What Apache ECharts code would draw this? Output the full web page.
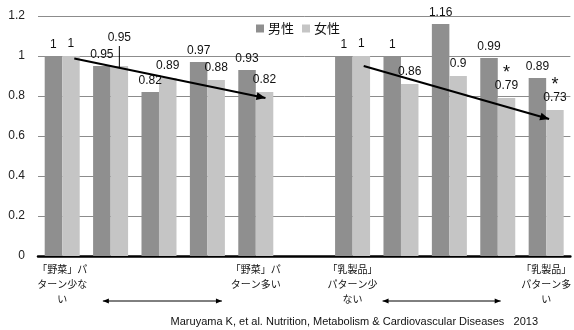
<!DOCTYPE html>
<html>
<head>
<meta charset="utf-8">
<script src="https://cdn.jsdelivr.net/npm/echarts@6/dist/echarts.min.js"></script>
<style>
  html, body { margin: 0; padding: 0; background: #fff; }
  #chart { width: 574px; height: 330px; }
</style>
</head>
<body>
<div id="chart"></div>
<script>
// Category labels (blank slots are the unlabeled middle groups and the spacer)
const categories = [
  '「野菜」パ\nターン少な\nい', '', '', '', '「野菜」パ\nターン多い',
  '',
  '「乳製品」\nパターン少\nない', '', '', '', '「乳製品」\nパターン多\nい'
];
const seriesNames = ['男性', '女性'];
const menValues   = [1, 0.95, 0.82, 0.97, 0.93, null, 1, 1, 1.16, 0.99, 0.89];
const womenValues = [1, 0.95, 0.89, 0.88, 0.82, null, 1, 0.86, 0.9, 0.79, 0.73];
// significance markers shown above the women's values
const womenMarks  = ['', '', '', '', '', '', '', '', '', '*', '*'];
const yTicks = [0, 0.2, 0.4, 0.6, 0.8, 1, 1.2];
const sourceNote = 'Maruyama K, et al. Nutrition, Metabolism & Cardiovascular Diseases   2013';

const BAR_W = 17.5;
const chart = echarts.init(document.getElementById('chart'), null, { renderer: 'canvas' });
const FONT = '"Liberation Sans", "Noto Sans CJK JP", sans-serif';
const CJK = '"Noto Sans CJK JP", sans-serif';

const labelBase = {
  show: true, position: 'top', distance: 5,
  fontFamily: FONT, fontSize: 12, color: '#111'
};

const option = {
  animation: false,
  backgroundColor: '#fff',
  grid: { left: 38, right: 0, top: 16, bottom: 74, containLabel: false },
  legend: {
    data: seriesNames,
    left: 251, top: 17,
    itemWidth: 8, itemHeight: 8, itemGap: 8,
    icon: 'rect',
    textStyle: { fontFamily: CJK, fontSize: 13, color: '#111', padding: [0, 0, 0, -1] }
  },
  xAxis: {
    type: 'category',
    data: categories,
    axisLine: { show: true, lineStyle: { color: '#000', width: 2.5 } },
    axisTick: { show: false },
    axisLabel: {
      interval: 0, margin: 6,
      fontFamily: CJK, fontSize: 10, lineHeight: 15, color: '#111'
    },
    splitLine: { show: false }
  },
  yAxis: {
    type: 'value',
    min: yTicks[0], max: yTicks[yTicks.length - 1], interval: 0.2,
    axisLine: { show: false },
    axisTick: { show: false },
    axisLabel: { margin: 13, fontFamily: FONT, fontSize: 12, color: '#222' },
    splitLine: { lineStyle: { color: '#8c8c8c', width: 1 } }
  },
  series: [
    {
      name: seriesNames[0], type: 'bar',
      barWidth: BAR_W, barGap: '0%',
      itemStyle: { color: '#8f8f8f' },
      label: labelBase,
      data: menValues
    },
    {
      name: seriesNames[1], type: 'bar',
      barWidth: BAR_W, barGap: '0%',
      itemStyle: { color: '#c5c5c5' },
      label: Object.assign({}, labelBase, {
        formatter: p => womenMarks[p.dataIndex]
          ? '{s|' + womenMarks[p.dataIndex] + '}\n{v|' + p.value + '}'
          : '{v|' + p.value + '}',
        rich: {
          s: { fontFamily: FONT, fontSize: 18, lineHeight: 12, color: '#111' },
          v: { fontFamily: FONT, fontSize: 12, lineHeight: 14, color: '#111' }
        }
      }),
      data: womenValues.map((v, i) => i === 1
        ? { value: v, label: { offset: [0, -16] } }
        : v)
    }
  ]
};
chart.setOption(option);

// --- annotations placed from axis coordinates ---
const px = (cat, val) => chart.convertToPixel({ gridIndex: 0 }, [cat, val]);
const band = px(1, 0)[0] - px(0, 0)[0];
const at = (catPos, val) => {
  const base = Math.floor(catPos);
  const p = px(base, val);
  return [p[0] + (catPos - base) * band, p[1]];
};

function arrowHead(tip, from, len, half) {
  const dx = tip[0] - from[0], dy = tip[1] - from[1];
  const d = Math.hypot(dx, dy), ux = dx / d, uy = dy / d;
  const bx = tip[0] - ux * len, by = tip[1] - uy * len;
  return {
    type: 'polygon', z: 100,
    shape: { points: [tip, [bx - uy * half, by + ux * half], [bx + uy * half, by - ux * half]] },
    style: { fill: '#000' }
  };
}
function arrow(a, b, width, len, half, both) {
  const els = [{
    type: 'line', z: 100,
    shape: { x1: a[0], y1: a[1], x2: b[0], y2: b[1] },
    style: { stroke: '#000', lineWidth: width }
  }, arrowHead(b, a, len, half)];
  if (both) els.push(arrowHead(a, b, len, half));
  return els;
}

const graphics = [];
// trend arrows across each pattern group
graphics.push(...arrow(at(0.25, 0.987), at(4.2, 0.79), 2, 9, 4, false));
graphics.push(...arrow(at(6.23, 0.95), at(10.06, 0.685), 2, 9, 4, false));

// range arrows under the axis
const yArrow = px(0, 0)[1] + 45;
const la = at(0.84, 0), lb = at(3.3, 0);
const ra = at(6.62, 0), rb = at(9.06, 0);
graphics.push(...arrow([la[0], yArrow], [lb[0], yArrow], 1, 6, 2.5, true));
graphics.push(...arrow([ra[0], yArrow], [rb[0], yArrow], 1, 6, 2.5, true));

// leader line for the lifted 0.95 label
const lead = at(1, 0.95);
graphics.push({
  type: 'line', z: 100,
  shape: { x1: lead[0] + BAR_W / 2, y1: lead[1] + 2, x2: lead[0] + BAR_W / 2, y2: lead[1] - 20 },
  style: { stroke: '#000', lineWidth: 1 }
});

// source note
graphics.push({
  type: 'text', right: 36, top: 316, z: 100,
  style: { text: sourceNote, fontFamily: FONT, fontSize: 11, fill: '#111' }
});

chart.setOption({ graphic: graphics });
</script>
</body>
</html>
